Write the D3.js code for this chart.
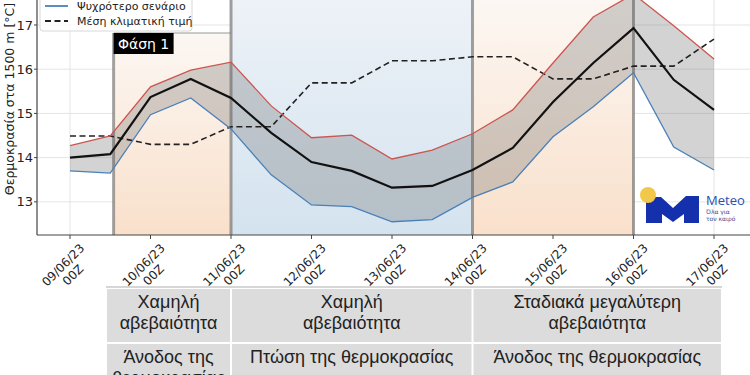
<!DOCTYPE html>
<html>
<head>
<meta charset="utf-8">
<script src="https://cdn.jsdelivr.net/npm/d3@7"></script>
<style>
  body { margin: 0; background: #fff; }
  svg { display: block; font-family: "DejaVu Sans", sans-serif; }
  .tbl { font-family: "Liberation Sans", sans-serif; fill: #222; }
</style>
</head>
<body>
<script>
// 12-hourly steps, 09/06/23 00Z .. 17/06/23 00Z
const times = ["2023-06-09T00", "2023-06-09T12", "2023-06-10T00", "2023-06-10T12", "2023-06-11T00",
  "2023-06-11T12", "2023-06-12T00", "2023-06-12T12", "2023-06-13T00", "2023-06-13T12",
  "2023-06-14T00", "2023-06-14T12", "2023-06-15T00", "2023-06-15T12", "2023-06-16T00",
  "2023-06-16T12", "2023-06-17T00"];
const warm = [14.27, 14.49, 15.6, 15.98, 16.16, 15.17, 14.45, 14.51, 13.97, 14.17, 14.54, 15.08, 16.14, 17.18, 17.7, 16.98, 16.23];
const mean = [14.0, 14.08, 15.37, 15.78, 15.35, 14.56, 13.9, 13.7, 13.32, 13.36, 13.72, 14.22, 15.26, 16.14, 16.93, 15.76, 15.08];
const cold = [13.7, 13.65, 14.97, 15.35, 14.65, 13.61, 12.93, 12.89, 12.55, 12.6, 13.1, 13.45, 14.47, 15.15, 15.92, 14.24, 13.72];
const clim = [14.49, 14.49, 14.3, 14.3, 14.7, 14.7, 15.69, 15.69, 16.19, 16.19, 16.28, 16.28, 15.78, 15.78, 16.07, 16.07, 16.68];
const yTicks = [13, 14, 15, 16, 17];
const tickDays = ["09/06/23", "10/06/23", "11/06/23", "12/06/23", "13/06/23", "14/06/23", "15/06/23", "16/06/23", "17/06/23"];

// shaded phases
const phaseStarts = ["2023-06-09T13", "2023-06-11T00", "2023-06-14T00"];
const phaseEnds = ["2023-06-11T00", "2023-06-14T00", "2023-06-16T00"];
const phaseKind = ["warm", "cool", "warm"];

const tableCols = [
  ["Χαμηλή", "αβεβαιότητα"],
  ["Χαμηλή", "αβεβαιότητα"],
  ["Σταδιακά μεγαλύτερη", "αβεβαιότητα"]
];
const tableRow2 = [
  ["Άνοδος της", "θερμοκρασίας"],
  ["Πτώση της θερμοκρασίας"],
  ["Άνοδος της θερμοκρασίας"]
];

const parse = d3.utcParse("%Y-%m-%dT%H");
const data = times.map((t, i) => ({
  date: parse(t), warm: warm[i], mean: mean[i], cold: cold[i], clim: clim[i]
}));

const width = 750, height = 375;
const left = 37, bottom = 235, right = 750;

const svg = d3.select("body").append("svg")
  .attr("width", width)
  .attr("height", height);

const x = d3.scaleUtc()
  .domain([parse("2023-06-09T00"), parse("2023-06-17T00")])
  .range([70, 714]);
const y = d3.scaleLinear()
  .domain([12.25, 17.565])
  .range([bottom, 0]);

const defs = svg.append("defs");
const gw = defs.append("linearGradient").attr("id", "gWarm")
  .attr("x1", 0).attr("y1", 0).attr("x2", 0).attr("y2", 1);
gw.append("stop").attr("offset", "0%").attr("stop-color", "#fcf7f3");
gw.append("stop").attr("offset", "100%").attr("stop-color", "#f9e0cb");
const gc = defs.append("linearGradient").attr("id", "gCool")
  .attr("x1", 0).attr("y1", 0).attr("x2", 0).attr("y2", 1);
gc.append("stop").attr("offset", "0%").attr("stop-color", "#edf2f7");
gc.append("stop").attr("offset", "100%").attr("stop-color", "#d4e3ef");

defs.append("clipPath").attr("id", "plotClip")
  .append("rect").attr("x", left).attr("y", 0)
  .attr("width", right - left).attr("height", bottom);

const plot = svg.append("g").attr("clip-path", "url(#plotClip)");

// grid
plot.append("g").selectAll("line.gx")
  .data(tickDays)
  .join("line")
  .attr("x1", (d, i) => x(d3.utcDay.offset(x.domain()[0], i)))
  .attr("x2", (d, i) => x(d3.utcDay.offset(x.domain()[0], i)))
  .attr("y1", 0).attr("y2", bottom)
  .attr("stroke", "#e4e4e4").attr("stroke-width", 1);
plot.append("g").selectAll("line.gy")
  .data(yTicks)
  .join("line")
  .attr("x1", left).attr("x2", right)
  .attr("y1", d => y(d)).attr("y2", d => y(d))
  .attr("stroke", "#e4e4e4").attr("stroke-width", 1);

// phase shading
const phaseTop = [33, 0, 0];
plot.append("g").selectAll("rect")
  .data(phaseStarts)
  .join("rect")
  .attr("x", (d, i) => x(parse(d)))
  .attr("width", (d, i) => x(parse(phaseEnds[i])) - x(parse(d)))
  .attr("y", (d, i) => phaseTop[i])
  .attr("height", (d, i) => bottom - phaseTop[i])
  .attr("fill", (d, i) => phaseKind[i] === "warm" ? "url(#gWarm)" : "url(#gCool)");

// band between scenarios
plot.append("path")
  .datum(data)
  .attr("fill", "rgba(110,110,110,0.3)")
  .attr("d", d3.area().x(d => x(d.date)).y0(d => y(d.cold)).y1(d => y(d.warm)));

// phase separators
const seps = [phaseStarts[0], phaseEnds[0], phaseEnds[1], phaseEnds[2]];
plot.append("g").selectAll("line")
  .data(seps)
  .join("line")
  .attr("x1", d => x(parse(d))).attr("x2", d => x(parse(d)))
  .attr("y1", (d, i) => i === 0 ? 33 : 0).attr("y2", bottom)
  .attr("stroke", "rgba(90,90,90,0.55)").attr("stroke-width", 3);
plot.append("line")
  .attr("x1", x(parse(phaseStarts[0]))).attr("x2", x(parse(phaseEnds[0])))
  .attr("y1", 33).attr("y2", 33)
  .attr("stroke", "rgba(120,120,120,0.5)").attr("stroke-width", 1.5);

// lines
const line = key => d3.line().x(d => x(d.date)).y(d => y(d[key]));
plot.append("path").datum(data).attr("d", line("clim"))
  .attr("fill", "none").attr("stroke", "#222").attr("stroke-width", 1.6)
  .attr("stroke-dasharray", "6,3.5");
plot.append("path").datum(data).attr("d", line("warm"))
  .attr("fill", "none").attr("stroke", "#cc5550").attr("stroke-width", 1.3);
plot.append("path").datum(data).attr("d", line("cold"))
  .attr("fill", "none").attr("stroke", "#4a80b8").attr("stroke-width", 1.3);
plot.append("path").datum(data).attr("d", line("mean"))
  .attr("fill", "none").attr("stroke", "#111").attr("stroke-width", 2.2);

// Φάση 1 label
const lblX = x(parse(phaseStarts[0]));
plot.append("rect").attr("x", lblX).attr("y", 33).attr("width", 60).attr("height", 21).attr("fill", "#000");
plot.append("text").attr("x", lblX + 30).attr("y", 44).attr("dy", "0.35em")
  .attr("text-anchor", "middle").attr("fill", "#fff").attr("font-size", 14).text("Φάση 1");

// legend (partly cut off at top)
const leg = svg.append("g");
leg.append("rect").attr("x", 40).attr("y", -40).attr("width", 152).attr("height", 71).attr("rx", 3)
  .attr("fill", "rgba(255,255,255,0.8)").attr("stroke", "#d8d8d8");
const legItems = [
  { label: "Ψυχρότερο σενάριο", color: "#4a80b8", dash: null, yy: 6 },
  { label: "Μέση κλιματική τιμή", color: "#222", dash: "6,3.5", yy: 21 }
];
legItems.forEach(it => {
  leg.append("line").attr("x1", 45).attr("x2", 68).attr("y1", it.yy).attr("y2", it.yy)
    .attr("stroke", it.color).attr("stroke-width", 1.8).attr("stroke-dasharray", it.dash);
  leg.append("text").attr("x", 77).attr("y", it.yy).attr("dy", "0.35em")
    .attr("font-size", 11).attr("fill", "#222").text(it.label);
});

// logo
const logo = svg.append("g");
logo.append("path")
  .attr("d", "M646,197 L661,197 L673,208 L686,196 L699,196 L699,223 L684,223 L684,214 L673,222 L662,214 L662,223 L646,223 Z")
  .attr("fill", "#1530ad");
logo.append("circle").attr("cx", 648).attr("cy", 195).attr("r", 8).attr("fill", "#f1c84a");
logo.append("text").attr("x", 706).attr("y", 205).attr("font-size", 13).attr("fill", "#2a4fb0")
  .style("font-family", "Open Sans, sans-serif").text("Meteo");
logo.append("text").attr("x", 706).attr("y", 214).attr("font-size", 6).attr("fill", "#3a4a90").text("Όλα για");
logo.append("text").attr("x", 706).attr("y", 221).attr("font-size", 6).attr("fill", "#3a4a90").text("τον καιρό");

// axes spines
svg.append("line").attr("x1", left).attr("x2", left).attr("y1", 0).attr("y2", bottom)
  .attr("stroke", "#444").attr("stroke-width", 1.2);
svg.append("line").attr("x1", left).attr("x2", right).attr("y1", bottom).attr("y2", bottom)
  .attr("stroke", "#444").attr("stroke-width", 1.2);

// y ticks
const yt = svg.append("g").selectAll("g").data(yTicks).join("g")
  .attr("transform", d => `translate(${left},${y(d)})`);
yt.append("line").attr("x1", -3).attr("x2", 0).attr("stroke", "#444");
yt.append("text").attr("x", -4).attr("dy", "0.35em").attr("text-anchor", "end")
  .attr("font-size", 13).attr("fill", "#222").text(d => d);

// x ticks
const xt = svg.append("g").selectAll("g").data(tickDays).join("g")
  .attr("transform", (d, i) => `translate(${x(d3.utcDay.offset(x.domain()[0], i))},${bottom})`);
xt.append("line").attr("y1", 0).attr("y2", 4).attr("stroke", "#444");
const xl = xt.append("g").attr("transform", "translate(-2,35) rotate(-45)");
xl.append("text").attr("y", -7).attr("dy", "0.35em").attr("text-anchor", "middle")
  .attr("font-size", 12).attr("fill", "#222").text(d => d);
xl.append("text").attr("y", 7).attr("dy", "0.35em").attr("text-anchor", "middle")
  .attr("font-size", 12).attr("fill", "#222").text("00Z");

// y label
svg.append("text")
  .attr("transform", `translate(10,${99}) rotate(-90)`)
  .attr("text-anchor", "middle").attr("dy", "0.35em")
  .attr("font-size", 12.5).attr("fill", "#222")
  .text("Θερμοκρασία στα 1500 m [°C]");

// table
const colEdges = [106, x(parse(phaseEnds[0])), x(parse(phaseEnds[1])), 722];
const rowTop = [289, 344];
const rowBot = [342, 380];
svg.append("line").attr("x1", 106).attr("x2", 722).attr("y1", 287).attr("y2", 287)
  .attr("stroke", "#c8c8c8").attr("stroke-width", 1.5);
const tbl = svg.append("g").attr("class", "tbl");
[tableCols, tableRow2].forEach((rowData, r) => {
  rowData.forEach((lines, c) => {
    const x0 = colEdges[c] + 1, x1 = colEdges[c + 1] - 1;
    tbl.append("rect").attr("x", x0).attr("y", rowTop[r])
      .attr("width", x1 - x0).attr("height", rowBot[r] - rowTop[r])
      .attr("fill", "#dcdcdc");
    lines.forEach((s, k) => {
      tbl.append("text").attr("x", (x0 + x1) / 2).attr("y", rowTop[r] + 13 + k * 21)
        .attr("dy", "0.35em").attr("text-anchor", "middle").attr("font-size", 18).text(s);
    });
  });
});
</script>
</body>
</html>
